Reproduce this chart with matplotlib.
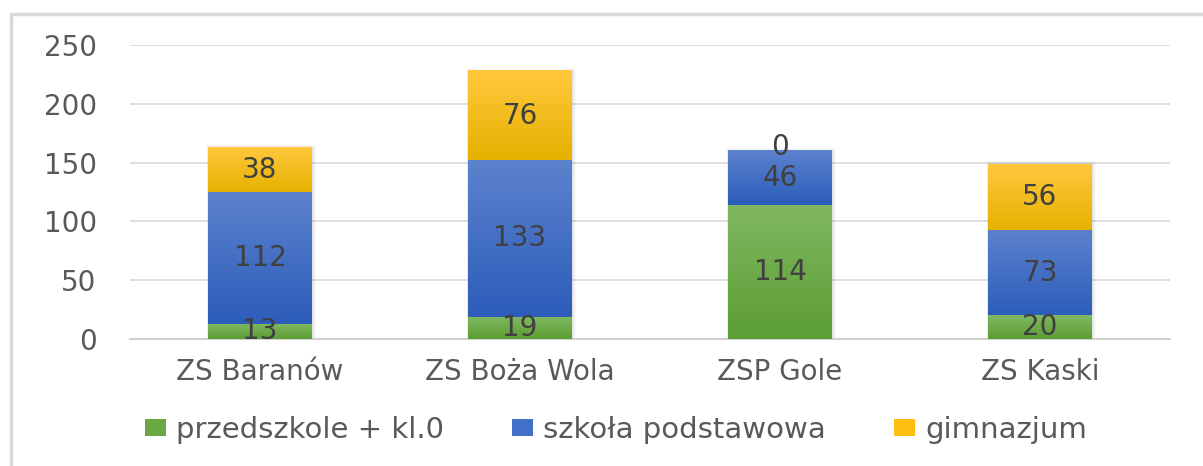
import matplotlib
matplotlib.use("Agg")
import matplotlib.pyplot as plt
import numpy as np
from matplotlib.colors import LinearSegmentedColormap
from matplotlib.patches import Rectangle, Patch

categories = ["ZS Baranów", "ZS Boża Wola", "ZSP Gole", "ZS Kaski"]
przedszkole = [13, 19, 114, 20]
podstawowa = [112, 133, 46, 73]
gimnazjum = [38, 76, 0, 56]
series_names = ["przedszkole + kl.0", "szkoła podstawowa", "gimnazjum"]
yticks = [0, 50, 100, 150, 200, 250]

plt.rcParams['font.family'] = ['DejaVu Sans']
FS = 20

# (top colour, bottom colour, legend colour)
grads = [("#80b862", "#5c9d34", "#6aa843"),
         ("#5c82cd", "#2c5dba", "#4070c8"),
         ("#ffc83d", "#e5b200", "#ffbf10")]

fig = plt.figure(figsize=(12.03, 4.66), dpi=100)
ax = fig.add_axes([130/1203, 1-339/466, 1040/1203, 294/466])

x = np.arange(len(categories))
width = 0.4
bottom = np.zeros(len(categories))
grad_img = np.linspace(0, 1, 256).reshape(-1, 1)

for vals, (ctop, cbot, cleg), name in zip([przedszkole, podstawowa, gimnazjum], grads, series_names):
    vals = np.array(vals, dtype=float)
    bars = ax.bar(x, vals, width, bottom=bottom, color=cleg, label=name, zorder=3)
    cmap = LinearSegmentedColormap.from_list("g", [ctop, cbot])
    for b in bars:
        x0, y0 = b.get_x(), b.get_y()
        w, h = b.get_width(), b.get_height()
        if h > 0:
            ax.imshow(grad_img, cmap=cmap, aspect='auto', extent=(x0, x0 + w, y0, y0 + h),
                      zorder=4, interpolation='bicubic')
    for xi, v, bt in zip(x, vals, bottom):
        ax.text(xi, bt + v / 2 + (3 if v == 0 else 0), f"{int(v)}", ha='center', va='center',
                fontsize=FS, color='#404040', zorder=6)
    bottom += vals

# soft shadow around stacks
for xi, tot in zip(x, bottom):
    for k in range(1, 6):
        dx = k / 260.0
        dy = k / 1.176
        ax.add_patch(Rectangle((xi - width/2 - dx*0.2, -0.5), width + dx*0.9, tot + dy*0.6,
                               facecolor='black', alpha=0.025, edgecolor='none', zorder=2))

ax.set_xlim(-0.5, 3.5)
ax.set_ylim(0, 250)
ax.set_yticks(yticks)
ax.set_xticks(x)
ax.set_xticklabels(categories)
ax.yaxis.grid(True, color='#d9d9d9', linewidth=1.2, zorder=0)
ax.set_axisbelow(True)
for s in ['top', 'right', 'left']:
    ax.spines[s].set_visible(False)
ax.spines['bottom'].set_color('#d0d0d0')
ax.spines['bottom'].set_linewidth(1.5)
ax.tick_params(axis='both', length=0, labelsize=FS, colors='#595959')
ax.tick_params(axis='y', pad=24)
ax.tick_params(axis='x', pad=14)

handles = [Patch(facecolor=g[2]) for g in grads]
fig.legend(handles, series_names, loc='center', bbox_to_anchor=(616/1203, 1-430/466),
           ncol=3, frameon=False, fontsize=21, handlelength=0.7, handleheight=0.5,
           handletextpad=0.35, columnspacing=2.35, labelcolor='#595959')

fig.patches.append(Rectangle((11/1203, -0.2), 1.2, 1.2 - 14/466, transform=fig.transFigure,
                             facecolor='none', edgecolor='#d9d9d9', linewidth=2.5))

fig.savefig("out.png", dpi=100)
